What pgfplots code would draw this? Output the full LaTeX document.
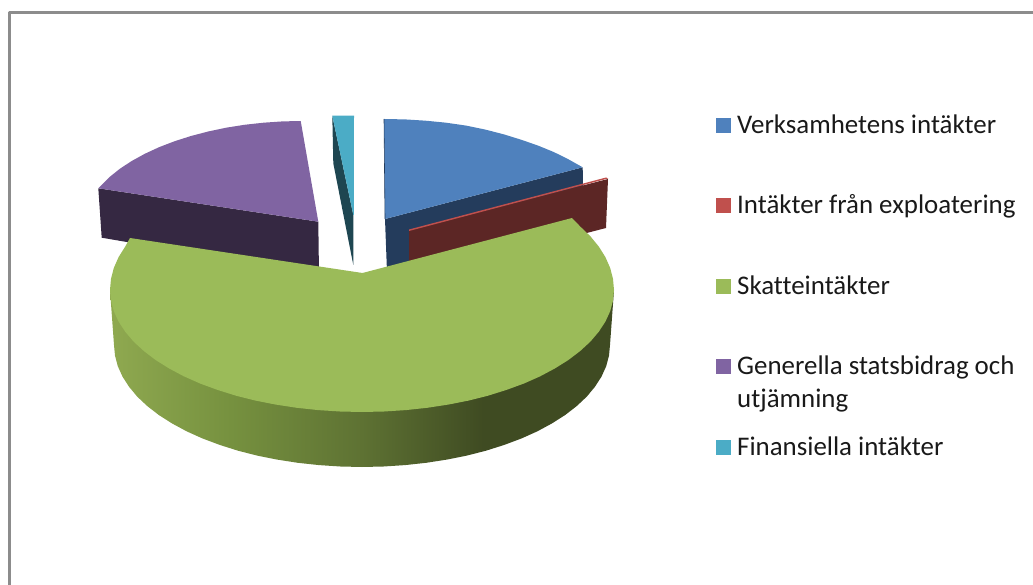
\documentclass[border=0pt]{standalone}
\usepackage{pgfplots}
\pgfplotsset{compat=1.18}
\usepackage{fontspec}
\setmainfont{Carlito}[Ligatures=CommonOff]
\definecolor{cblue}{HTML}{4F81BD}
\definecolor{cblueD}{HTML}{243C5C}
\definecolor{cred}{HTML}{C0504D}
\definecolor{credD}{HTML}{5C2625}
\definecolor{cgreen}{HTML}{9BBB59}
\definecolor{cpurple}{HTML}{8064A2}
\definecolor{cpurpleD}{HTML}{352842}
\definecolor{cteal}{HTML}{4BACC6}
\definecolor{ctealD}{HTML}{1E4651}
\definecolor{cframe}{HTML}{8C8C8C}
\definecolor{gA}{HTML}{8FA950}
\definecolor{gB}{HTML}{76913F}
\definecolor{gC}{HTML}{5E7233}
\definecolor{gD}{HTML}{3F4B22}
\pgfdeclarehorizontalshading{greenside}{100bp}{color(0bp)=(gA); color(25bp)=(gA); color(37bp)=(gB); color(50bp)=(gC); color(62bp)=(gD); color(100bp)=(gD)}
\begin{document}
\begin{tikzpicture}
\useasboundingbox (0,0) rectangle (1033pt,585pt);
\begin{axis}[
  at={(0,0)}, anchor=south west,
  width=1033pt, height=585pt, scale only axis,
  axis lines=none, xmin=0, xmax=1033, ymin=0, ymax=585, y dir=reverse,
  clip=true, no markers,
  every axis plot/.append style={draw=none, line join=round},
]
% frame
\addplot[draw=cframe, line width=2.2pt] coordinates {(9.5,585) (9.5,12.5) (1033,12.5)};
% blue slice
\addplot[fill=cblueD] coordinates {(385,219) (582.7,167.3) (583,190) (387,272)} --cycle;
\addplot[fill=cblue] coordinates {(385,219) (384,119) (404.9,119.4) (425.7,120.7) (446.1,122.7) (466.1,125.6) (485.4,129.6) (504,134.4) (521.7,139.9) (538.3,145.7) (553.7,152) (567.9,159) (582.7,167.3)} --cycle;
\addplot[draw=cblueD, line width=0.6pt] coordinates {(384,119) (385,219)};
% red slice
\addplot[fill=credD] coordinates {(409,230) (608,179) (606,228) (409,279)} --cycle;
\addplot[fill=cred] coordinates {(409,229.5) (606,177.5) (608,178.5) (409,231)} --cycle;
% purple slice
\addplot[fill=cpurpleD] coordinates {(98.3,188.3) (318.3,221.7) (319,275) (101.7,237.7)} --cycle;
\addplot[fill=cpurple] coordinates {(318.3,221.7) (98.3,188.3) (109.7,176.9) (120.1,168.6) (131.9,160.9) (145,153.7) (159.3,147.1) (174.7,141.2) (191,136) (208.2,131.5) (226.1,127.7) (244.5,124.8) (263.5,122.7) (282.6,121.4) (300.7,121)} --cycle;
% teal slice
\addplot[fill=ctealD] coordinates {(332.3,115.7) (353.3,215) (353.3,265) (333.3,163.3)} --cycle;
\addplot[fill=cteal] coordinates {(332.3,115.7) (354,115.7) (353.8,215) (353.3,215)} --cycle;
% green slice side
\addplot[shading=greenside] coordinates {
(110,290) (114,345) (115,355.6) (117.8,366.2) (122.5,376.6) (129,386.7) (137.2,396.6) (147.2,406) (158.8,415) (172,423.4) (186.6,431.3) (202.6,438.5) (219.7,444.9) (238,450.7) (257.2,455.6) (277.2,459.6) (297.8,462.8) (319,465.1) (340.4,466.5) (362,467) (383.6,466.5) (405,465.1) (426.2,462.8) (446.8,459.6) (466.8,455.6) (486,450.7) (504.3,444.9) (521.4,438.5) (537.4,431.3) (552,423.4) (565.2,415) (576.8,406) (586.8,396.6) (595,386.7) (601.5,376.6) (606.2,366.2) (609,355.6) (610,345) (614,290)} --cycle;
% green slice top
\addplot[fill=cgreen] coordinates {
(362.5,273) (130,238) (125.2,246.6) (118.6,257.1) (113.8,268) (111,278.9) (110,290) (111,300.6) (113.8,311.2) (118.6,321.6) (125.2,331.7) (133.6,341.6) (143.8,351) (155.6,360) (169,368.4) (183.8,376.3) (200,383.5) (217.5,389.9) (236,395.7) (255.5,400.6) (275.8,404.6) (296.8,407.8) (318.2,410.1) (340,411.5) (362,412) (384,411.5) (405.8,410.1) (427.2,407.8) (448.2,404.6) (468.5,400.6) (488,395.7) (506.5,389.9) (524,383.5) (540.2,376.3) (555,368.4) (568.4,360) (580.2,351) (590.4,341.6) (598.8,331.7) (605.4,321.6) (610.2,311.2) (613,300.6) (614,290) (613,278.9) (610.2,268) (605.4,257.1) (598.8,246.6) (590.4,236.3) (580.2,226.5) (572,218)} --cycle;
% legend keys
\addplot[fill=cblue] coordinates {(716,118) (731,118) (731,133) (716,133)} --cycle;
\addplot[fill=cred] coordinates {(716,198) (731,198) (731,213) (716,213)} --cycle;
\addplot[fill=cgreen] coordinates {(716,279) (731,279) (731,294) (716,294)} --cycle;
\addplot[fill=cpurple] coordinates {(716,359) (731,359) (731,374) (716,374)} --cycle;
\addplot[fill=cteal] coordinates {(716,440) (731,440) (731,455) (716,455)} --cycle;
% legend text
\tikzset{lg/.style={anchor=base west, inner sep=0pt, font=\fontsize{26.9}{27}\selectfont, text=black!90}}
\node[lg] at (axis cs:737,133.7) {Verksamhetens intäkter};
\node[lg] at (axis cs:737,213.7) {Intäkter från exploatering};
\node[lg] at (axis cs:737,294.2) {Skatteintäkter};
\node[lg] at (axis cs:737,374.2) {Generella statsbidrag och};
\node[lg] at (axis cs:737,407.7) {utjämning};
\node[lg] at (axis cs:737,455.2) {Finansiella intäkter};
\end{axis}
\end{tikzpicture}
\end{document}
